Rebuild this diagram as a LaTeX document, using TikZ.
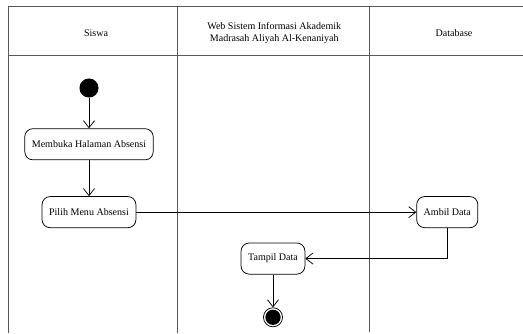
\documentclass[tikz,border=0pt]{standalone}
\usepackage{fontspec}
\setmainfont{Liberation Serif}
\usetikzlibrary{positioning,arrows.meta}

\begin{document}
\begin{tikzpicture}[
    >={Straight Barb[length=7pt,width=11pt]},
    lane/.style={draw=black!65, line width=0.9pt},
    lanetitle/.style={font=\fontsize{10}{12}\selectfont, align=center},
    action/.style={
      draw, rounded corners=8pt, minimum height=31pt, inner xsep=7pt,
      line width=0.75pt, font=\fontsize{10}{12}\selectfont
    },
    startnode/.style={circle, fill=black, minimum size=19pt, inner sep=0pt},
    endnode/.style={circle, draw, line width=0.75pt, minimum size=19pt, inner sep=0pt,
      path picture={\fill (path picture bounding box.center) circle (7.6pt);}},
    flow/.style={->, line width=0.75pt}
  ]
  \useasboundingbox (0,0) rectangle (18.305,-11.655);

  % ===== Swimlanes =====
  \draw[lane] (18.305,-0.21) -- (0.28,-0.21) -- (0.28,-11.655);
  \draw[lane] (0.28,-1.925) -- (18.305,-1.925);
  \draw[lane] (6.195,-0.21) -- (6.195,-11.655);
  \draw[lane] (12.915,-0.21) -- (12.915,-11.62);

  % Lane titles
  \node[lanetitle] (siswa) at (3.36,-1.15) {Siswa};
  \node[lanetitle] (web) at (9.6,-1.15)
    {Web Sistem Informasi Akademik\\Madrasah Aliyah Al-Kenaniyah};
  \node[lanetitle] (db) at (15.89,-1.15) {Database};

  % ===== Activities =====
  \node[startnode] (start) at (3.115,-3.08) {};
  \node[action, below=1.07cm of start] (membuka) {Membuka Halaman Absensi};
  \node[action, below=1.26cm of membuka] (pilih) {Pilih Menu Absensi};
  \node[action, right=9.8cm of pilih] (ambil) {Ambil Data};
  \node[action] (tampil) at (9.555,-9.05) {Tampil Data};
  \node[endnode, below=1.15cm of tampil] (finish) {};

  % ===== Flows =====
  \draw[flow] (start) -- (membuka);
  \draw[flow] (membuka) -- (pilih);
  \draw[flow] (pilih) -- (ambil);
  \draw[flow] (ambil.south) |- (tampil.east);
  \draw[flow] (tampil) -- (finish);

\end{tikzpicture}
\end{document}
